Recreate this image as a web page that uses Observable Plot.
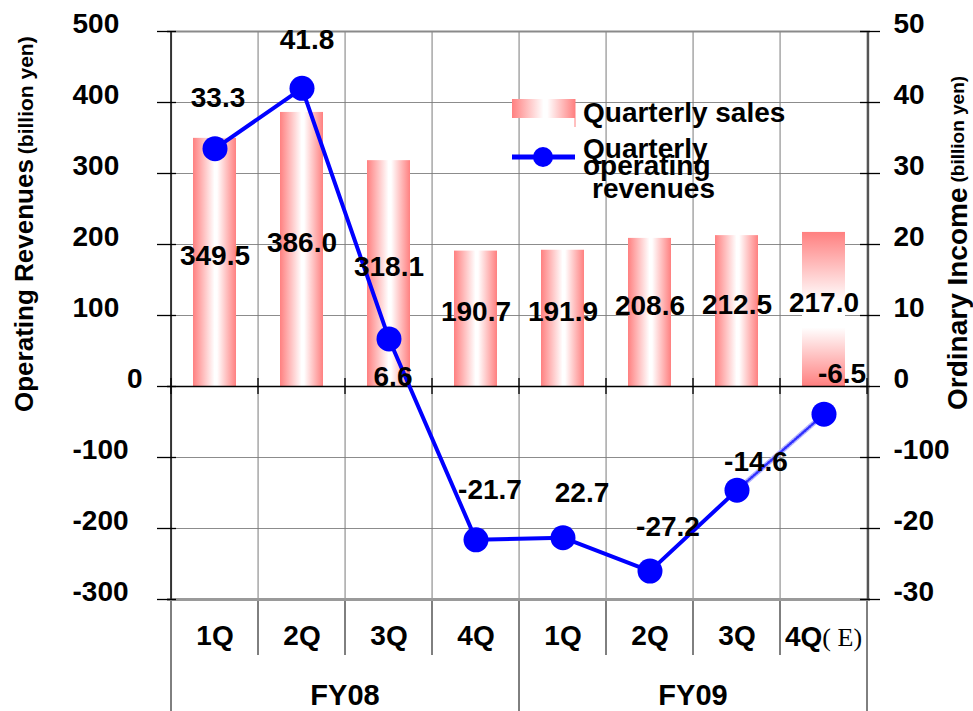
<!DOCTYPE html>
<html><head><meta charset="utf-8">
<script src="https://cdn.jsdelivr.net/npm/d3@7"></script>
<script src="https://cdn.jsdelivr.net/npm/@observablehq/plot@0.6"></script>
<style>html,body{margin:0;padding:0;background:#fff;} svg{display:block;}</style>
</head><body><div id="chart"></div>
<script>
// ---------- data ----------
const fiscalYears = ["FY08", "FY09"];
const fiscalYearOf = ["FY08", "FY08", "FY08", "FY08", "FY09", "FY09", "FY09", "FY09"];
const quarterLabels = ["1Q", "2Q", "3Q", "4Q", "1Q", "2Q", "3Q", "4Q"];
const estimateSuffix = "( E)";
const isEstimate = [false, false, false, false, false, false, false, true];
const quarterlySales = [349.5, 386.0, 318.1, 190.7, 191.9, 208.6, 212.5, 217.0];
const salesLabels = ["349.5", "386.0", "318.1", "190.7", "191.9", "208.6", "212.5", "217.0"];
const operatingRevenues = [33.5, 42.0, 6.7, -21.6, -21.3, -26.0, -14.6, -3.9];
const operatingLabels = ["33.3", "41.8", "6.6", "-21.7", "22.7", "-27.2", "-14.6", "-6.5"];
const leftTicks = [500, 400, 300, 200, 100, 0, -100, -200, -300];
const rightTicks = [50, 40, 30, 20, 10, 0, -10, -20, -30];
const rightTickLabels = ["50", "40", "30", "20", "10", "0", "-100", "-20", "-30"];
const leftTitle = ["Operating Revenues", "(billion yen)"];
const rightTitle = ["Ordinary Income", "(billion yen)"];
const legendSales = "Quarterly sales";
const legendLineRows = ["Quarterly", "operating", "revenues"];
const rightPerLeft = 10; // left axis units per right axis unit

// ---------- layout ----------
const W = 973, H = 711, ML = 167, MR = 103, MT = 31, MB = 112;
const BW = (W - ML - MR) / quarterLabels.length;
const FONT = "'Liberation Sans', Arial, Helvetica, sans-serif";
const PINK = "#ff8080";
const BLUE = "#0000ff";
const labelNudge = [[3, -51], [5, -48], [4, 38], [14, -50], [19, -45], [18, -44], [19, -28], [18, -40]];

const periods = quarterLabels.map((q, i) => fiscalYearOf[i] + " " + q);
const rows = periods.map((p, i) => ({
  period: p, q: quarterLabels[i], fy: fiscalYearOf[i], est: isEstimate[i],
  sales: quarterlySales[i], salesLabel: salesLabels[i],
  op: operatingRevenues[i] * rightPerLeft, opLabel: operatingLabels[i]
}));

const txt = {fontSize: 28, fontWeight: "bold", fontFamily: FONT, fill: "#000"};

// background decorations: gradients, separators below the plot
const decorBack = (index, {x, y}) => {
  const g = d3.create("svg:g");
  const defs = g.append("defs");
  const gh = defs.append("linearGradient").attr("id", "salesH").attr("x1", 0).attr("x2", 1).attr("y1", 0).attr("y2", 0);
  [[0, PINK], [0.5, "#ffffff"], [0.56, "#ffffff"], [1, PINK]].forEach(([o, c]) => gh.append("stop").attr("offset", o).attr("stop-color", c));
  const gv = defs.append("linearGradient").attr("id", "salesV").attr("x1", 0).attr("x2", 0).attr("y1", 0).attr("y2", 1);
  [[0, PINK], [0.45, "#ffffff"], [0.62, "#ffffff"], [1, PINK]].forEach(([o, c]) => gv.append("stop").attr("offset", o).attr("stop-color", c));
  const bw = x.bandwidth();
  const yb = y(leftTicks[leftTicks.length - 1]);
  const bounds = periods.map(p => x(p)).concat([x(periods[periods.length - 1]) + bw]);
  g.selectAll(null).data(bounds).join("line")
    .attr("x1", d => d).attr("x2", d => d)
    .attr("y1", yb)
    .attr("y2", (d, i) => (i === 0 || i === 4 || i === bounds.length - 1) ? H : yb + 56)
    .attr("stroke", "#000").attr("stroke-width", 1);
  return g.node();
};

// foreground decorations: zero ticks, x labels, titles, legend
const decorFront = (index, {x, y}) => {
  const bw = x.bandwidth();
  const g = d3.create("svg:g").attr("font-family", FONT).attr("font-weight", "bold")
    .attr("fill", "#000").attr("text-anchor", "start");
  const y0 = y(0);
  const bounds = periods.map(p => x(p)).concat([x(periods[periods.length - 1]) + bw]);
  g.selectAll(null).data(bounds).join("line")
    .attr("x1", d => d).attr("x2", d => d).attr("y1", y0 - 8).attr("y2", y0 + 8)
    .attr("stroke", "#000").attr("stroke-width", 1.3);

  // estimate quarter label
  const iE = isEstimate.indexOf(true);
  const te = g.append("text").attr("x", x(periods[iE]) + 5).attr("y", y(leftTicks[leftTicks.length - 1]) + 37)
    .attr("dy", "0.35em").attr("font-size", 28);
  te.append("tspan").text(quarterLabels[iE]);
  te.append("tspan").attr("font-family", "'Liberation Serif', 'Times New Roman', serif").attr("font-weight", "normal")
    .attr("font-size", 26).text(estimateSuffix);

  // fiscal year labels
  fiscalYears.forEach(fy => {
    const idx = periods.map((p, i) => i).filter(i => fiscalYearOf[i] === fy);
    const x0 = x(periods[idx[0]]), x1 = x(periods[idx[idx.length - 1]]) + bw;
    g.append("text").attr("x", (x0 + x1) / 2).attr("y", 695).attr("dy", "0.35em")
      .attr("text-anchor", "middle").attr("font-size", 29).text(fy);
  });

  // axis titles
  const lt = g.append("text").attr("transform", "translate(33,412) rotate(-90)").attr("font-size", 26);
  lt.append("tspan").text(leftTitle[0]);
  lt.append("tspan").attr("font-size", 21).attr("dx", 5).text(leftTitle[1]);
  const rt = g.append("text").attr("transform", "translate(967,410) rotate(-90)").attr("font-size", 28);
  rt.append("tspan").text(rightTitle[0]);
  rt.append("tspan").attr("font-size", 19).attr("dx", 5).attr("dy", -3).text(rightTitle[1]);

  // legend
  g.append("rect").attr("x", 512).attr("y", 99).attr("width", 63).attr("height", 19).attr("fill", "url(#salesH)");
  g.append("line").attr("x1", 575).attr("x2", 575).attr("y1", 99).attr("y2", 127).attr("stroke", PINK).attr("stroke-width", 1);
  g.append("text").attr("x", 583).attr("y", 122).attr("font-size", 28).text(legendSales);
  g.append("line").attr("x1", 512).attr("x2", 575).attr("y1", 157).attr("y2", 157).attr("stroke", BLUE).attr("stroke-width", 5);
  g.append("circle").attr("cx", 543).attr("cy", 157).attr("r", 10).attr("fill", BLUE);
  g.append("text").attr("x", 583).attr("y", 158).attr("font-size", 28).text(legendLineRows[0]);
  g.append("text").attr("x", 583).attr("y", 175).attr("font-size", 28).text(legendLineRows[1]);
  g.append("text").attr("x", 592).attr("y", 198).attr("font-size", 28).text(legendLineRows[2]);
  return g.node();
};

const interiorTicks = leftTicks.filter(d => d !== leftTicks[0] && d !== 0 && d !== leftTicks[leftTicks.length - 1]);
const iEst = isEstimate.indexOf(true);

const plot = Plot.plot({
  width: W, height: H,
  marginLeft: ML, marginRight: MR, marginTop: MT, marginBottom: MB,
  x: {type: "band", domain: periods, padding: 0, axis: null},
  y: {domain: [leftTicks[leftTicks.length - 1], leftTicks[0]], axis: null},
  style: {fontFamily: FONT, background: "#fff", overflow: "visible"},
  marks: [
    decorBack,
    Plot.ruleY(interiorTicks, {stroke: "#8c8c8c", strokeWidth: 1}),
    Plot.ruleX(periods.slice(1), {dx: -BW / 2, stroke: "#7a7a7a", strokeWidth: 1}),
    Plot.ruleY([leftTicks[0]], {stroke: "#8a8a8a", strokeWidth: 2}),
    Plot.ruleY([leftTicks[leftTicks.length - 1]], {stroke: "#9a9a9a", strokeWidth: 3}),
    Plot.barY(rows.filter(d => !d.est), {x: "period", y: "sales", fill: "url(#salesH)", insetLeft: 22, insetRight: 22}),
    Plot.barY(rows.filter(d => d.est), {x: "period", y: "sales", fill: "url(#salesV)", insetLeft: 22, insetRight: 22}),
    Plot.ruleY([0], {stroke: "#000", strokeWidth: 1.5}),
    Plot.ruleX([periods[0]], {dx: -BW / 2, stroke: "#333", strokeWidth: 2}),
    Plot.ruleX([periods[periods.length - 1]], {dx: BW / 2, stroke: "#555", strokeWidth: 2.5}),
    Plot.ruleY(leftTicks, {insetLeft: -10, insetRight: W - ML - MR - 9, stroke: "#000", strokeWidth: 1.3}),
    Plot.ruleY(rightTicks.map(d => d * rightPerLeft), {insetLeft: W - ML - MR - 10, insetRight: -10, stroke: "#000", strokeWidth: 1.3}),
    decorFront,
    Plot.line(rows.filter(d => !d.est), {x: "period", y: "op", stroke: BLUE, strokeWidth: 4}),
    Plot.line(rows.slice(iEst - 1), {x: "period", y: "op", stroke: "#b4b4ff", strokeWidth: 5}),
    Plot.line(rows.slice(iEst - 1), {x: "period", y: "op", stroke: "#3030ff", strokeWidth: 2.5, strokeDasharray: "1.2,2"}),
    Plot.dot(rows, {x: "period", y: "op", r: 12.5, fill: BLUE, stroke: "none"}),
    Plot.text(rows, {x: "period", y: d => d.sales / 2, text: "salesLabel", dy: -6.5, lineAnchor: "middle", ...txt}),
    ...rows.map((r, i) => Plot.text([r], {x: "period", y: "op", text: "opLabel", dx: labelNudge[i][0], dy: labelNudge[i][1], lineAnchor: "middle", ...txt})),
    Plot.text(rows.filter(d => !d.est), {x: "period", text: "q", frameAnchor: "bottom", dy: 37, lineAnchor: "middle", ...txt}),
    Plot.text(leftTicks.filter(d => d !== 0), {y: d => d, text: d => String(d), frameAnchor: "left", dx: -95, dy: -7, textAnchor: "start", lineAnchor: "middle", ...txt}),
    Plot.text([0], {y: d => d, text: d => String(d), frameAnchor: "left", dx: -25, dy: -7, textAnchor: "end", lineAnchor: "middle", ...txt}),
    Plot.text(rightTicks.map((d, i) => ({v: d * rightPerLeft, label: rightTickLabels[i]})), {y: "v", text: "label", frameAnchor: "right", dx: 23, dy: -7, textAnchor: "start", lineAnchor: "middle", ...txt})
  ]
});
document.getElementById("chart").appendChild(plot);
</script>
</body></html>
